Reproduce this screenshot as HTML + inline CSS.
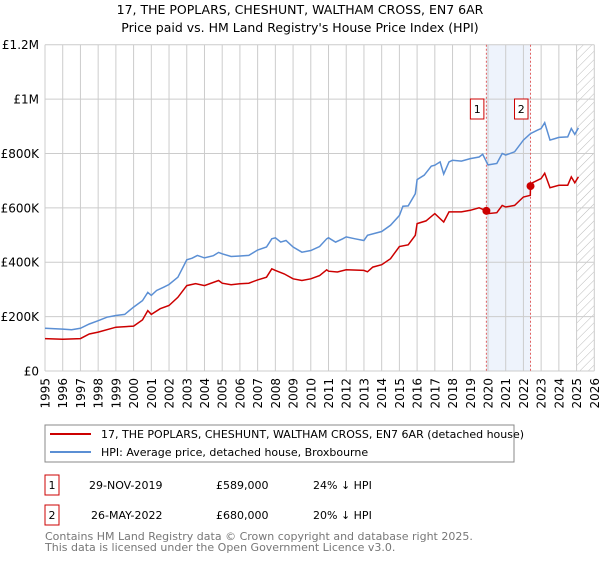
<!DOCTYPE html>
<html><head><meta charset="utf-8"><style>
body{margin:0;background:#fff;font-family:"Liberation Sans","DejaVu Sans",sans-serif;}
svg text{font-family:"DejaVu Sans","Liberation Sans",sans-serif;}
</style></head><body>
<svg id="chart" width="600" height="560" xmlns="http://www.w3.org/2000/svg">
<text x="300" y="14" text-anchor="middle" font-size="12.5">17, THE POPLARS, CHESHUNT, WALTHAM CROSS, EN7 6AR</text>
<text x="300" y="32" text-anchor="middle" font-size="12.5">Price paid vs. HM Land Registry's House Price Index (HPI)</text>
<defs><pattern id="hatch" patternUnits="userSpaceOnUse" width="6" height="6" patternTransform="rotate(45)"><line x1="0" y1="0" x2="0" y2="6" stroke="#bbb" stroke-width="1"/></pattern></defs>
<g id="grid"></g>
<g id="marks"></g>
<g>
<rect x="45" y="425" width="469" height="37" fill="#fff" stroke="#888"/>
<line x1="50" y1="434" x2="91" y2="434" stroke="#cc0000" stroke-width="2"/>
<text x="101" y="438" font-size="11">17, THE POPLARS, CHESHUNT, WALTHAM CROSS, EN7 6AR (detached house)</text>
<line x1="50" y1="452" x2="91" y2="452" stroke="#5b8fd4" stroke-width="2"/>
<text x="101" y="456" font-size="11">HPI: Average price, detached house, Broxbourne</text>
</g>
<g font-size="11">
<rect x="45" y="475" width="14" height="20" fill="#fff" stroke="#cc0000"/>
<text x="52" y="489" text-anchor="middle">1</text>
<text x="89" y="489">29-NOV-2019</text><text x="216" y="489">£589,000</text><text x="313" y="489">24% ↓ HPI</text>
<rect x="45" y="505" width="14" height="20" fill="#fff" stroke="#cc0000"/>
<text x="52" y="519" text-anchor="middle">2</text>
<text x="91" y="519">26-MAY-2022</text><text x="216" y="519">£680,000</text><text x="313" y="519">20% ↓ HPI</text>
</g>
<text x="45" y="540" font-size="11" fill="#777">Contains HM Land Registry data © Crown copyright and database right 2025.</text>
<text x="45" y="551" font-size="11" fill="#777">This data is licensed under the Open Government Licence v3.0.</text>
</svg>
<script>
const hpiYears=[1995,1996,1996.5,1997,1997.5,1998,1998.5,1999,1999.5,2000,2000.5,2000.8,2001,2001.3,2001.7,2002,2002.5,2003,2003.3,2003.6,2004,2004.5,2004.8,2005,2005.5,2006,2006.5,2007,2007.5,2007.8,2008,2008.3,2008.6,2009,2009.5,2010,2010.5,2010.9,2011,2011.4,2011.8,2012,2012.5,2013,2013.2,2014,2014.5,2015,2015.2,2015.5,2015.9,2016,2016.4,2016.8,2017,2017.3,2017.5,2017.8,2018,2018.5,2019,2019.5,2019.7,2020,2020.5,2020.8,2021,2021.5,2022,2022.4,2022.8,2023,2023.2,2023.5,2023.8,2024,2024.5,2024.7,2024.9,2025.1];
const hpiValues=[157,154,152,157,173,185,198,204,208,235,259,289,278,296,308,318,345,409,415,425,416,424,436,431,421,423,425,445,456,486,490,474,480,456,437,443,458,486,490,474,486,493,486,480,499,513,536,572,606,607,652,704,720,753,757,769,724,769,775,772,781,787,797,758,763,800,794,806,849,873,886,892,913,849,855,859,861,892,870,894];
const priceYears=[1995,1996,1997,1997.5,1998,1999,2000,2000.5,2000.8,2001,2001.5,2002,2002.5,2003,2003.5,2004,2004.8,2005,2005.5,2006,2006.5,2007,2007.5,2007.8,2008,2008.5,2009,2009.5,2010,2010.5,2010.9,2011,2011.5,2012,2013,2013.2,2013.5,2014,2014.5,2015,2015.5,2015.9,2016,2016.5,2017,2017.5,2017.8,2018,2018.5,2019,2019.5,2019.91,2020,2020.5,2020.8,2021,2021.5,2022,2022.39,2022.4,2022.5,2023,2023.2,2023.5,2024,2024.5,2024.7,2024.9,2025.1];
const priceValues=[119,117,119,136,143,161,165,188,222,208,229,241,271,314,321,314,333,323,317,321,323,335,345,376,370,357,339,333,339,351,372,367,364,372,370,365,382,391,413,458,464,499,542,552,579,548,585,585,585,591,600,589,579,582,609,603,609,640,646,680,692,708,727,674,683,683,714,692,714];
const saleYears=[2019.91,2022.4];
const saleValues=[589,680];
const saleLabels=["1","2"];
const yTicks=[0,200,400,600,800,1000,1200];
const yTickLabels=["£0","£200K","£400K","£600K","£800K","£1M","£1.2M"];
const xTicks=[1995,1996,1997,1998,1999,2000,2001,2002,2003,2004,2005,2006,2007,2008,2009,2010,2011,2012,2013,2014,2015,2016,2017,2018,2019,2020,2021,2022,2023,2024,2025,2026];

const X0=45,X1=594.3,Y0=371,Y1=44.7;
const x=y=>X0+(y-1995)/31*(X1-X0);
const yv=v=>Y0-v/1200*(Y0-Y1);
const NS="http://www.w3.org/2000/svg";
function mk(tag,attrs,parent){const e=document.createElementNS(NS,tag);for(const k in attrs)e.setAttribute(k,attrs[k]);parent.appendChild(e);return e;}
const grid=document.getElementById('grid'),marks=document.getElementById('marks');
const shade=mk('rect',{x:x(saleYears[0]),y:Y1,width:x(saleYears[1])-x(saleYears[0]),height:Y0-Y1,fill:'#eef3fc'},grid);


const hatch=mk('rect',{x:x(2025),y:Y1,width:X1-x(2025),height:Y0-Y1,fill:'url(#hatch)'},grid);


xTicks.forEach(t=>{
 const l=mk('line',{x1:x(t),x2:x(t),y1:Y1,y2:Y0,stroke:'#ccc','stroke-width':1},grid);
 
 
 const tx=mk('text',{x:0,y:0,'font-size':12,'text-anchor':'end',transform:`translate(${x(t)+4.5},${Y0+7}) rotate(-90)`},grid);
 tx.textContent=t;
 
 
});
yTicks.forEach((t,i)=>{
 const l=mk('line',{x1:X0,x2:X1,y1:yv(t),y2:yv(t),stroke:'#ccc','stroke-width':1},grid);
 
 
 const tx=mk('text',{x:X0-6,y:yv(t)+4.5,'font-size':12,'text-anchor':'end'},grid);
 tx.textContent=yTickLabels[i];
 
 
});
saleYears.forEach((s,i)=>{
 const l=mk('line',{x1:x(s),x2:x(s),y1:Y1,y2:Y0,stroke:'#e06060','stroke-width':1,'stroke-dasharray':'2,2'},marks);
 
 
});
const hp=mk('path',{d:hpiYears.map((t,i)=>(i?'L':'M')+x(t).toFixed(1)+','+yv(hpiValues[i]).toFixed(1)).join(''),fill:'none',stroke:'#5b8fd4','stroke-width':1.5},marks);


const pp=mk('path',{d:priceYears.map((t,i)=>(i?'L':'M')+x(t).toFixed(1)+','+yv(priceValues[i]).toFixed(1)).join(''),fill:'none',stroke:'#cc0000','stroke-width':1.5},marks);


saleYears.forEach((s,i)=>{
 const c=mk('circle',{cx:x(s),cy:yv(saleValues[i]),r:4,fill:'#cc0000'},marks);
 
 
 const b=mk('rect',{x:x(s)-16,y:99,width:13.5,height:20,fill:'#fff',stroke:'#cc0000'},marks);
 
 
 const t=mk('text',{x:x(s)-9.2,y:113,'font-size':11,'text-anchor':'middle'},marks);
 t.textContent=saleLabels[i];
 
 
});
</script>
</body></html>
